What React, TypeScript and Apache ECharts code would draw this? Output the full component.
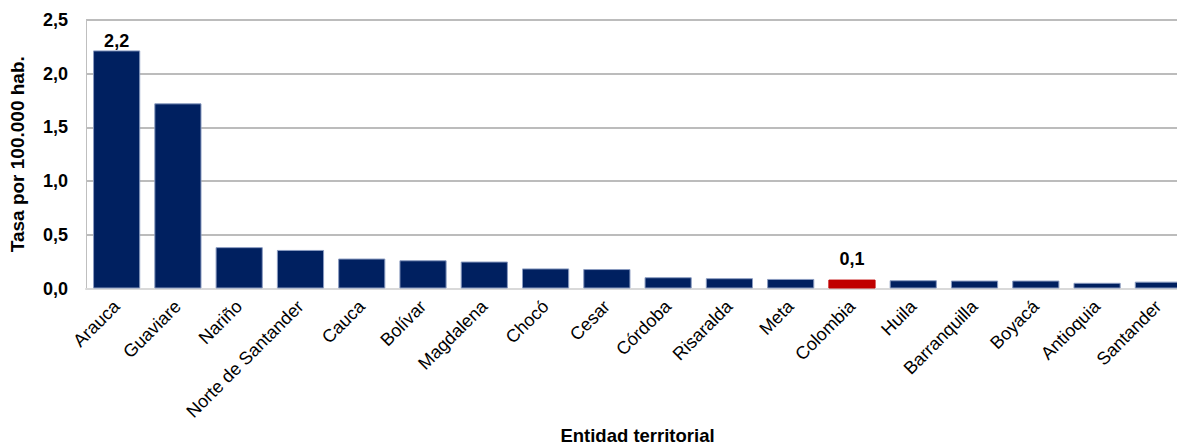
import React, { useEffect, useRef } from "react";
import * as echarts from "echarts";

const categories = [
  "Arauca", "Guaviare", "Nariño", "Norte de Santander", "Cauca", "Bolívar",
  "Magdalena", "Chocó", "Cesar", "Córdoba", "Risaralda", "Meta", "Colombia",
  "Huila", "Barranquilla", "Boyacá", "Antioquia", "Santander",
];
const values = [
  2.217, 1.724, 0.385, 0.359, 0.279, 0.263, 0.251, 0.187, 0.181, 0.105,
  0.096, 0.089, 0.083, 0.077, 0.074, 0.074, 0.053, 0.064,
];
const labeled: Record<string, number> = { Arauca: 0, Colombia: 12 };
const highlight = "Colombia";
const yTicks = { min: 0, max: 2.5, interval: 0.5 };

const fmt = (v: number) => v.toFixed(1).replace(".", ",");
const FONT = "Liberation Sans, Arial, sans-serif";

export default function App() {
  const ref = useRef<HTMLDivElement>(null);
  useEffect(() => {
    if (!ref.current) return;
    const chart = echarts.init(ref.current, undefined, { renderer: "svg" });
    chart.setOption({
      animation: false,
      textStyle: { fontFamily: FONT },
      grid: {
        left: 86,
        top: 20,
        right: -12,
        bottom: 155.5,
        containLabel: false,
        outerBoundsMode: "none",
      },
      xAxis: {
        type: "category",
        data: categories,
        name: "Entidad territorial",
        nameLocation: "middle",
        nameGap: 137,
        nameMoveOverlap: false,
        nameTextStyle: {
          fontFamily: FONT,
          fontWeight: "bold",
          fontSize: 18.5,
          color: "#000",
          verticalAlign: "top",
        },
        axisLine: { lineStyle: { color: "#d9d9d9", width: 2 } },
        axisTick: { show: false },
        axisLabel: {
          rotate: 45,
          interval: 0,
          fontFamily: FONT,
          fontSize: 18,
          color: "#000",
          margin: 15,
        },
      },
      yAxis: {
        type: "value",
        min: yTicks.min,
        max: yTicks.max,
        interval: yTicks.interval,
        name: "Tasa por 100.000 hab.",
        nameLocation: "middle",
        nameGap: 59,
        nameMoveOverlap: false,
        nameTextStyle: { fontFamily: FONT, fontWeight: "bold", fontSize: 19, color: "#000" },
        axisLine: { show: true, lineStyle: { color: "#bfbfbf", width: 1 } },
        axisTick: { show: false },
        axisLabel: {
          formatter: (v: number) => fmt(v),
          fontFamily: FONT,
          fontWeight: "bold",
          fontSize: 18,
          color: "#000",
          margin: 18,
        },
        splitLine: { lineStyle: { color: "#a6a6a6", width: 1.5 } },
      },
      series: [
        {
          type: "bar",
          barCategoryGap: "23%",
          data: values.map((v, i) => {
            const c = categories[i];
            const d: any = {
              value: v,
              itemStyle: {
                color: c === highlight ? "#c00000" : "#002060",
                borderColor: c === highlight ? "#c00000" : "#8a9bc0",
                borderWidth: 1,
              },
            };
            if (labeled[c] !== undefined) {
              d.label = {
                show: true,
                position: "top",
                distance: labeled[c],
                formatter: (p: any) => fmt(p.value),
                fontFamily: FONT,
                fontWeight: "bold",
                fontSize: 18,
                color: "#000",
              };
            }
            return d;
          }),
        },
      ],
    });
    return () => chart.dispose();
  }, []);
  return (
    <div
      ref={ref}
      style={{ position: "absolute", left: 0, top: 0, width: 1177, height: 444 }}
    />
  );
}
